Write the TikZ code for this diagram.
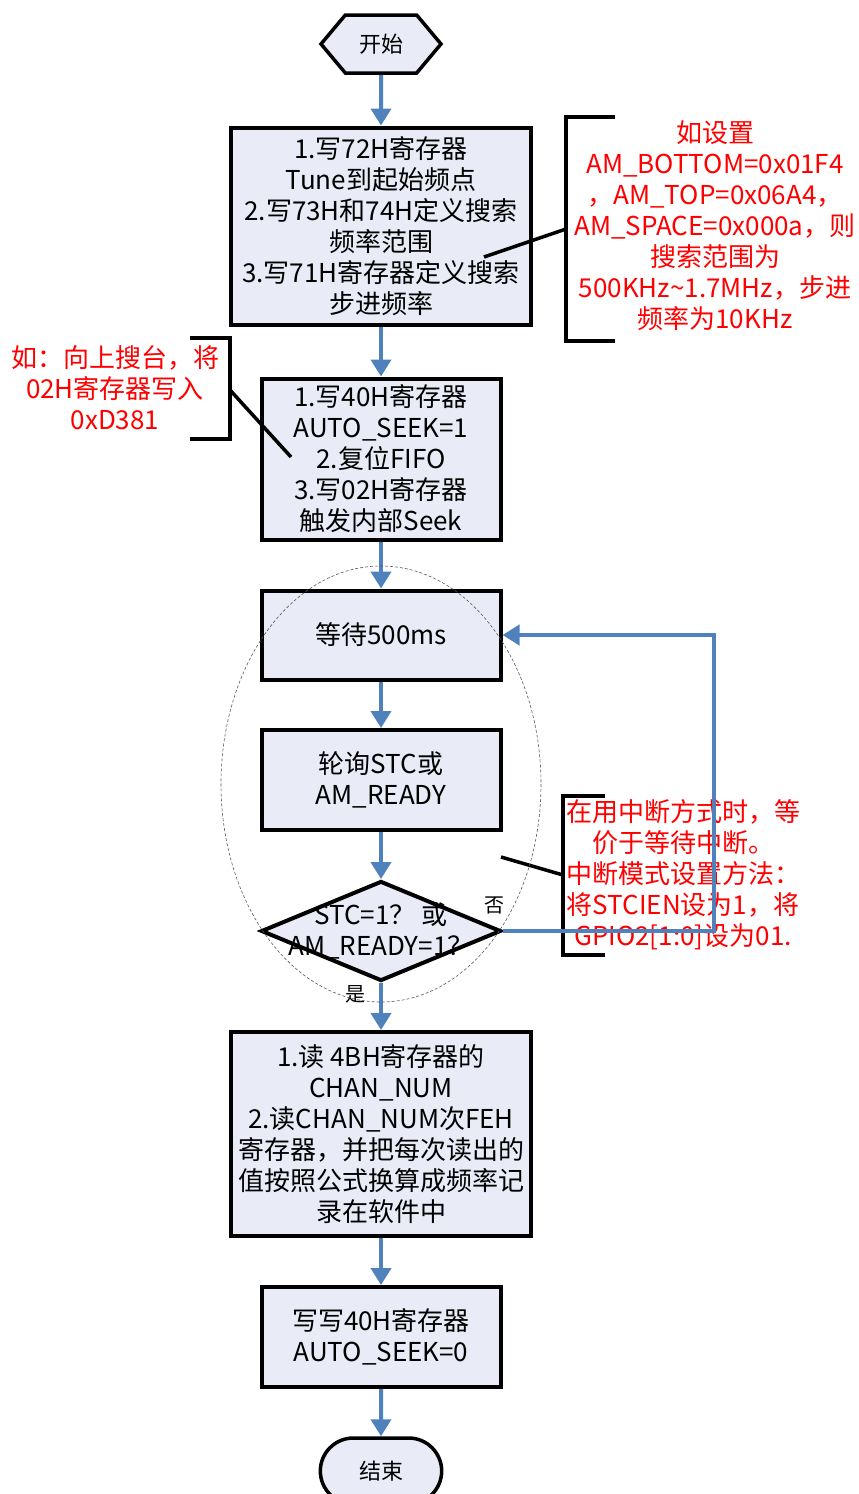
\documentclass[tikz,border=0pt]{standalone}
\usepackage{fontspec}
\setmainfont{Noto Sans CJK SC}
\usetikzlibrary{shapes.geometric, shapes.misc, shapes.symbols, arrows.meta, positioning}
\definecolor{boxfill}{RGB}{233,236,247}
\definecolor{flowblue}{RGB}{79,129,189}
\tikzstyle{terminal} = [signal, signal to=west and east, signal pointer angle=100, minimum width=120pt, minimum height=58pt, draw=black, line width=3.5pt, fill=boxfill, font=\fontsize{22}{26}\selectfont]
\tikzstyle{stopper} = [rounded rectangle, minimum width=128pt, minimum height=66pt, draw=black, line width=3.5pt, fill=boxfill, font=\fontsize{22}{26}\selectfont]
\tikzstyle{process} = [rectangle, align=center, draw=black, line width=4pt, fill=boxfill, inner sep=2pt, font=\fontsize{26}{31}\selectfont]
\tikzstyle{decision} = [diamond, draw=black, line width=4pt, fill=boxfill, minimum width=240pt, minimum height=100pt, inner sep=0pt]
\tikzstyle{note} = [align=center, text=red, font=\fontsize{26}{31}\selectfont]
\tikzstyle{lbl} = [font=\fontsize{20}{24}\selectfont]
\tikzstyle{brace} = [line width=3.5pt, black]
\tikzstyle{flow} = [line width=4pt, flowblue, -{Triangle[width=20pt,length=17pt]}]

\begin{document}
\begin{tikzpicture}[x=1pt, y=-1pt]
    \useasboundingbox (0,0) rectangle (859,1494);

    % Place nodes
    \node (start) [terminal] at (381,44) {开始};
    \node (tune) [process, minimum width=300pt, minimum height=197pt, below of=start, node distance=182pt] {1.写72H寄存器\\Tune到起始频点\\2.写73H和74H定义搜索\\频率范围\\3.写71H寄存器定义搜索\\步进频率};
    \node (seek) [process, minimum width=239pt, minimum height=161pt, below of=tune, node distance=233pt] {1.写40H寄存器\\AUTO\_SEEK=1\\2.复位FIFO\\3.写02H寄存器\\触发内部Seek};
    \node (wait) [process, minimum width=239pt, minimum height=89pt, below of=seek, node distance=176pt] {等待500ms};
    \node (poll) [process, minimum width=239pt, minimum height=100pt, below of=wait, node distance=145pt] {轮询STC或\\AM\_READY};
    \node (dec) [decision, below of=poll, node distance=151pt] {};
    \node (dectext) [align=center, font=\fontsize{26}{31}\selectfont] at (dec) {STC=1？ 或\\AM\_READY=1？};
    \node (read) [process, minimum width=300pt, minimum height=204pt, below of=dec, node distance=203pt] {1.读 4BH寄存器的\\CHAN\_NUM\\2.读CHAN\_NUM次FEH\\寄存器，并把每次读出的\\值按照公式换算成频率记\\录在软件中};
    \node (clear) [process, minimum width=239pt, minimum height=100pt, below of=read, node distance=203pt] {写写40H寄存器\\AUTO\_SEEK=0};
    \node (stop) [stopper, below of=clear, node distance=134pt] {结束};

    % Notes
    \node (note1) [note, right of=tune, node distance=334pt] {如设置\\AM\_BOTTOM=0x01F4\\，AM\_TOP=0x06A4，\\AM\_SPACE=0x000a，则\\搜索范围为\\500KHz\textasciitilde1.7MHz，步进\\频率为10KHz};
    \node (note2) [note] at (115,388) {如：向上搜台，将\\02H寄存器写入\\0xD381};
    \node (note3) [note] at (683,875) {在用中断方式时，等\\价于等待中断。\\中断模式设置方法：\\将STCIEN设为1，将\\GPIO2[1:0]设为01.};

    \coordinate (br1) at (566,229);
    \coordinate (tunept) at (484,257);
    \coordinate (br2) at (230,390);
    \coordinate (seekpt) at (291,457);
    \coordinate (br3) at (563,875);
    \coordinate (pollpt) at (501,857);

    \draw [brace] (615,117) -| (566,341) -- (615,341);
    \draw [brace] (190,338) -| (230,439) -- (190,439);
    \draw [brace] (605,796) -| (563,955) -- (605,955);
    \draw [brace] (tunept) -- (br1);
    \draw [brace] (br2) -- (seekpt);
    \draw [brace] (pollpt) -- (br3);

    % Draw edges
    \draw [flow] (start) -- (tune);
    \draw [flow] (tune) -- (seek);
    \draw [flow] (seek) -- (wait);
    \draw [flow] (wait) -- (poll);
    \draw [flow] (poll) -- (dec);
    \draw [flow] (dec) -- (read);
    \draw [flow] (read) -- (clear);
    \draw [flow] (clear) -- (stop);
    \draw [flow] (dec.east) -- ++(211,0) |- (wait.east);

    \node (no) [lbl] at ([xshift=-9pt, yshift=26pt]dec.east) {否};
    \node (yes) [lbl] at ([xshift=-26pt, yshift=-11pt]dec.south) {是};

    % waiting loop
    \draw [gray!70!black, line width=0.6pt, dash pattern=on 3pt off 2pt] (381,784) ellipse [x radius=160, y radius=218];
\end{tikzpicture}
\end{document}
